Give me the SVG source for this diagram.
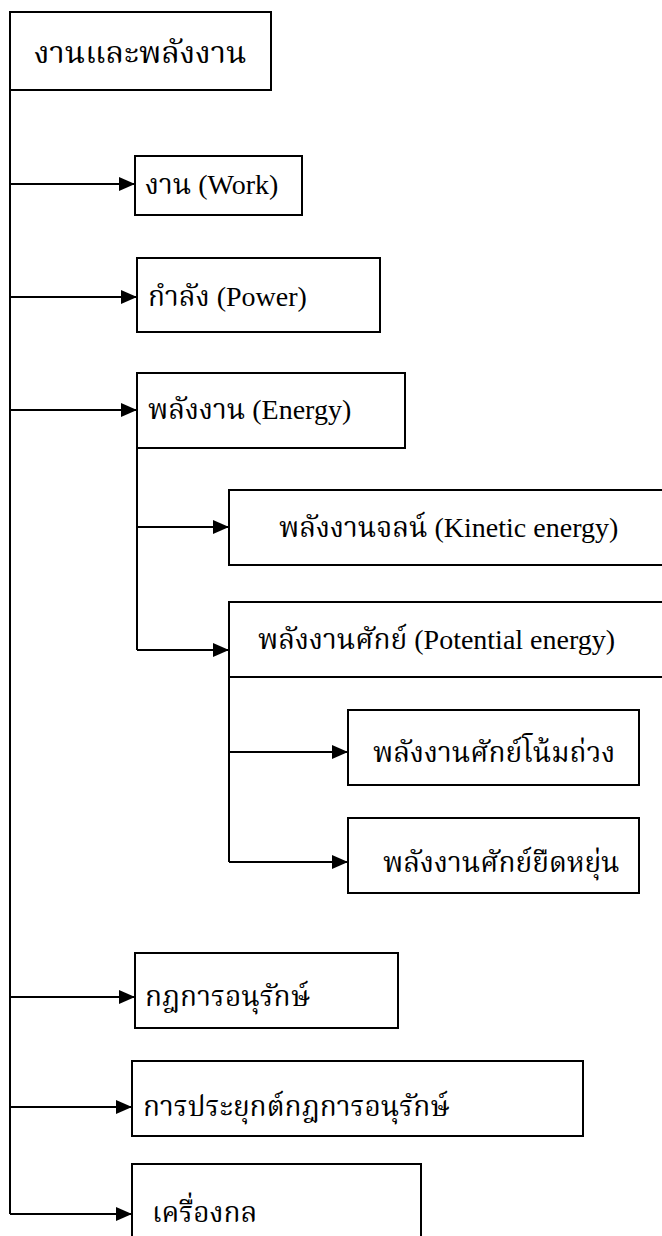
<svg xmlns="http://www.w3.org/2000/svg" width="662" height="1236" viewBox="0 0 662 1236">
<style>
.box{fill:#fff;stroke:#000;stroke-width:2}
.ln{fill:none;stroke:#000;stroke-width:2}
.t{font-family:'Liberation Serif','Norasi','Kinnari','Noto Serif Thai','Noto Sans Thai','Noto Sans',serif;font-size:28px;fill:#000}
.title{font-size:31px}
</style>
<defs>
<marker id="ah" markerUnits="userSpaceOnUse" markerWidth="16" markerHeight="14" refX="16" refY="7" orient="auto">
<path d="M0,0 L16,7 L0,14 z" fill="#000"/>
</marker>
</defs>
<rect width="662" height="1236" fill="#fff"/>
<g id="connectors">
<path class="ln" d="M10,90 V1214"/>
<path class="ln" d="M10,184 H135" marker-end="url(#ah)"/>
<path class="ln" d="M10,297 H137" marker-end="url(#ah)"/>
<path class="ln" d="M10,410 H137" marker-end="url(#ah)"/>
<path class="ln" d="M137,448 V650"/>
<path class="ln" d="M137,527 H229" marker-end="url(#ah)"/>
<path class="ln" d="M137,650 H229" marker-end="url(#ah)"/>
<path class="ln" d="M229,677 V862"/>
<path class="ln" d="M229,752 H348" marker-end="url(#ah)"/>
<path class="ln" d="M229,862 H348" marker-end="url(#ah)"/>
<path class="ln" d="M10,997 H135" marker-end="url(#ah)"/>
<path class="ln" d="M10,1107 H132" marker-end="url(#ah)"/>
<path class="ln" d="M10,1214 H132" marker-end="url(#ah)"/>
</g>
<g id="n-root"><rect class="box" x="10" y="12" width="261" height="78"/><text class="t title" x="34" y="63">งานและพลังงาน</text></g>
<g id="n-work"><rect class="box" x="135" y="156" width="167" height="59"/><text class="t" x="145" y="194">งาน (Work)</text></g>
<g id="n-power"><rect class="box" x="137" y="258" width="243" height="74"/><text class="t" x="148" y="306">กำลัง (Power)</text></g>
<g id="n-energy"><rect class="box" x="137" y="373" width="268" height="75"/><text class="t" x="148" y="419">พลังงาน (Energy)</text></g>
<g id="n-kinetic"><rect class="box" x="229" y="490" width="440" height="75"/><text class="t" x="279" y="537">พลังงานจลน์ (Kinetic energy)</text></g>
<g id="n-potential"><rect class="box" x="229" y="602" width="440" height="75"/><text class="t" x="258" y="649">พลังงานศักย์ (Potential energy)</text></g>
<g id="n-gravity"><rect class="box" x="348" y="710" width="291" height="75"/><text class="t" x="373" y="762">พลังงานศักย์โน้มถ่วง</text></g>
<g id="n-elastic"><rect class="box" x="348" y="818" width="291" height="75"/><text class="t" x="383" y="872">พลังงานศักย์ยืดหยุ่น</text></g>
<g id="n-law"><rect class="box" x="135" y="953" width="263" height="75"/><text class="t" x="145" y="1006">กฎการอนุรักษ์</text></g>
<g id="n-apply"><rect class="box" x="132" y="1061" width="451" height="75"/><text class="t" x="143" y="1116">การประยุกต์กฎการอนุรักษ์</text></g>
<g id="n-machine"><rect class="box" x="132" y="1164" width="289" height="80"/><text class="t" x="152" y="1222">เครื่องกล</text></g>
</svg>
